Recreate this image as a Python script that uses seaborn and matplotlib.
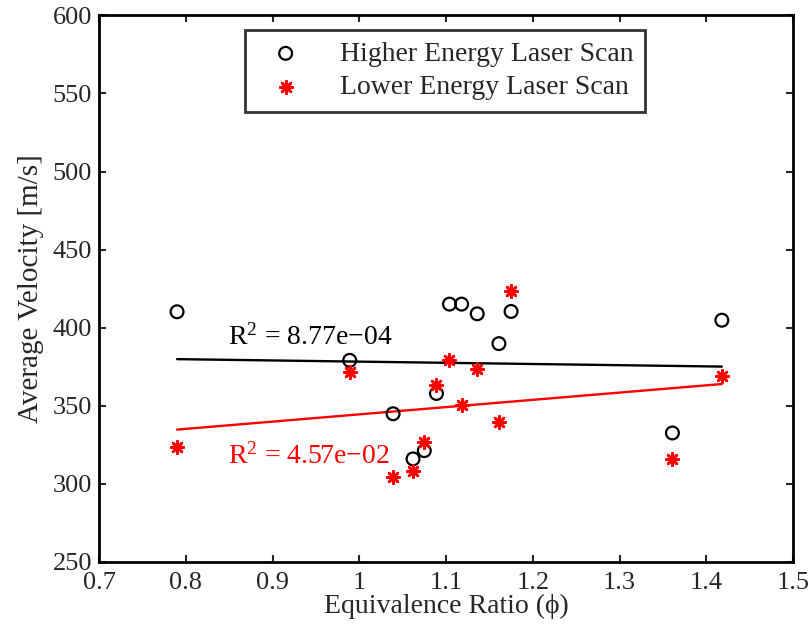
import numpy as np
import pandas as pd
import matplotlib
matplotlib.use("Agg")
import matplotlib.pyplot as plt
import seaborn as sns

# Equivalence ratio of each test point (shared by both scans)
phi = [0.790, 0.989, 1.039, 1.062, 1.075, 1.089, 1.104,
       1.118, 1.136, 1.161, 1.175, 1.361, 1.418]

# Average velocity [m/s]
v_high = [410.2, 379.1, 344.9, 316.0, 321.3, 357.9, 415.1,
          415.1, 408.9, 389.8, 410.4, 332.6, 404.8]
v_low = [323.8, 371.9, 304.3, 308.5, 326.7, 363.2, 379.3,
         350.4, 373.4, 339.4, 423.2, 316.0, 369.1]

labels = ["Higher Energy Laser Scan", "Lower Energy Laser Scan"]
r2_text = [r"R$^2$ = 8.77e$-$04", r"R$^2$ = 4.57e$-$02"]

xticks = [0.7, 0.8, 0.9, 1.0, 1.1, 1.2, 1.3, 1.4, 1.5]
xticklabels = ["0.7", "0.8", "0.9", "1", "1.1", "1.2", "1.3", "1.4", "1.5"]
yticks = [250, 300, 350, 400, 450, 500, 550, 600]

sns.set_style("ticks")
plt.rcParams["font.family"] = ["Liberation Serif", "DejaVu Serif"]
plt.rcParams["mathtext.fontset"] = "custom"
plt.rcParams["mathtext.rm"] = "Liberation Serif"
plt.rcParams["mathtext.it"] = "Liberation Serif:italic"
plt.rcParams["font.size"] = 20

df = pd.DataFrame({"phi": phi, "high": v_high, "low": v_low})

fig = plt.figure(figsize=(8.11, 6.30), dpi=100)
ax = fig.add_axes([99 / 811, 68 / 630, 694 / 811, 546.7 / 630])

# least-squares fit lines over the measured range
sns.regplot(data=df, x="phi", y="high", scatter=False, ci=None, truncate=True,
            color="black", line_kws={"lw": 1.7}, ax=ax)
sns.regplot(data=df, x="phi", y="low", scatter=False, ci=None, truncate=True,
            color="red", line_kws={"lw": 1.7}, ax=ax)

# measured points
sns.scatterplot(data=df, x="phi", y="high", marker="o", s=85,
                facecolor="none", edgecolor="black", linewidth=1.6,
                label=labels[0], ax=ax, zorder=3)
sns.scatterplot(data=df, x="phi", y="low", marker=(8, 2, 0), s=80,
                color="red", edgecolor="red", linewidth=1.9,
                label=labels[1], ax=ax, zorder=3)

ax.text(0.8487, 389.3, r2_text[0], color="black", fontsize=20, va="baseline")
ax.text(0.8487, 312.8, r2_text[1], color="red", fontsize=20, va="baseline")

ax.set_xlim(0.7, 1.5)
ax.set_ylim(250, 600)
ax.set_xticks(xticks)
ax.set_xticklabels(xticklabels)
ax.set_yticks(yticks)
ax.tick_params(direction="in", length=5, width=1.5, top=True, right=True,
               labelsize=19)
ax.tick_params(axis="x", pad=7)
ax.tick_params(axis="y", pad=5)
for sp in ax.spines.values():
    sp.set_visible(True)
    sp.set_linewidth(2)
    sp.set_color("black")

ax.set_xlabel("Equivalence Ratio (\u03d5)", fontsize=20, labelpad=0)
ax.set_ylabel("Average Velocity [m/s]", fontsize=21, labelpad=6)

leg = ax.legend(loc="upper center", bbox_to_anchor=(0.4985, 0.973),
                borderaxespad=0, frameon=True, fancybox=False, fontsize=20,
                handletextpad=0.9, borderpad=0.4, labelspacing=0.3,
                handlelength=2.1)
leg.get_frame().set_edgecolor("black")
leg.get_frame().set_linewidth(2)

fig.savefig("out.png", dpi=100)
